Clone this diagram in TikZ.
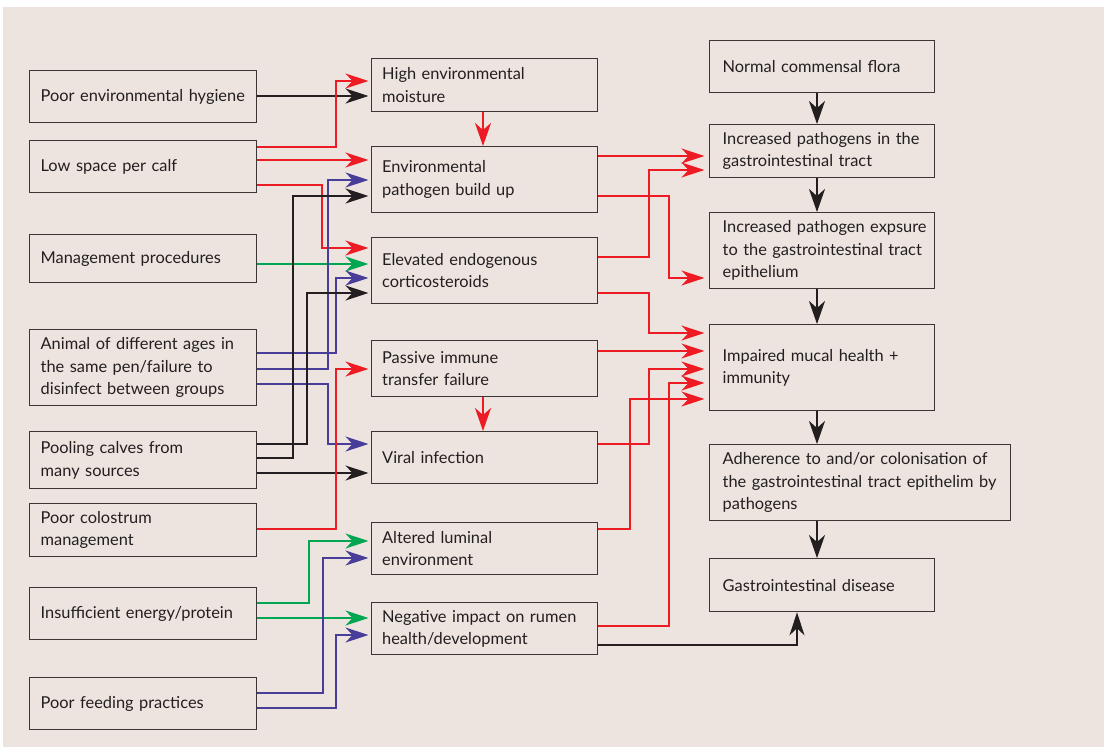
\documentclass[tikz,border=0pt]{standalone}
\usepackage{fontspec}
\setmainfont{Lato}
\usetikzlibrary{arrows.meta}
\definecolor{bg}{RGB}{237,228,223}
\definecolor{cred}{RGB}{237,28,36}
\definecolor{cblue}{RGB}{72,61,152}
\definecolor{cgreen}{RGB}{0,166,81}
\definecolor{cblack}{RGB}{35,31,32}
\definecolor{cbord}{RGB}{60,53,53}
\begin{document}
\begin{tikzpicture}[x=1pt,y=-1pt,
  box/.style={draw=cbord, line width=1.3pt, inner xsep=0pt, inner ysep=0pt, align=left,
    anchor=north west, text=cblack, font=\fontsize{16.4}{22.5}\selectfont},
  lbox/.style={box, text width=227pt, execute at begin node={\leftskip=11pt\hyphenpenalty=10000\exhyphenpenalty=10000}},
  mbox/.style={box, text width=226pt, execute at begin node={\leftskip=10.5pt\hyphenpenalty=10000\exhyphenpenalty=10000}},
  rbox/.style={box, text width=225pt, execute at begin node={\leftskip=13pt\hyphenpenalty=10000\exhyphenpenalty=10000}},
  tip/.style={-{Stealth[length=23pt,width=15pt,inset=7pt]}},
  con/.style={line width=1.4pt, tip, shorten >=2.5pt},
  conr/.style={line width=1.4pt, tip, shorten >=4.5pt},
  vert/.style={line width=2.2pt, -{Stealth[length=23pt,width=16pt,inset=7pt]}},
]
\useasboundingbox (0,0) rectangle (1104,747);
\fill[bg] (3,7) rectangle (1104,747);

% left column
\node[lbox, minimum height=52pt] (hyg) at (29,70) {Poor environmental hygiene};
\node[lbox, minimum height=52pt] (low) at (29,140) {Low space per calf};
\node[lbox, minimum height=48pt] (mgmt) at (29,234) {Management procedures};
\node[lbox, minimum height=76pt] (anim) at (29,329) {Animal of different ages in\\the same pen/failure to\\disinfect between groups};
\node[lbox, minimum height=57pt] (pool) at (29,431) {Pooling calves from\\many sources};
\node[lbox, minimum height=53pt] (colo) at (29,503) {Poor colostrum\\management};
\node[lbox, minimum height=52pt] (insuf) at (29,587) {Insufficient energy/protein};
\node[lbox, minimum height=52pt] (feed) at (29,677) {Poor feeding practices};

% middle column
\node[mbox, minimum height=53pt] (moist) at (371,58) {High environmental\\moisture};
\node[mbox, minimum height=66pt] (env) at (371,146) {Environmental\\pathogen build up};
\node[mbox, minimum height=66pt] (elev) at (371,237) {Elevated endogenous\\corticosteroids};
\node[mbox, minimum height=56pt] (pass) at (371,340) {Passive immune\\transfer failure};
\node[mbox, minimum height=52pt] (viral) at (371,431) {Viral infection};
\node[mbox, minimum height=52pt] (alt) at (371,522) {Altered luminal\\environment};
\node[mbox, minimum height=52pt] (neg) at (371,602) {Negative impact on rumen\\health/development};

% right column
\node[rbox, minimum height=52pt] (norm) at (709,40) {Normal commensal flora};
\node[rbox, minimum height=53pt] (incp) at (709,124) {Increased pathogens in the\\gastrointestinal tract};
\node[rbox, minimum height=76pt] (expo) at (709,212) {Increased pathogen expsure\\to the gastrointestinal tract\\epithelium};
\node[rbox, minimum height=86pt] (imp) at (709,324) {Impaired mucal health +\\immunity};
\node[rbox, text width=301pt, minimum height=76pt] (adh) at (709,444) {Adherence to and/or colonisation of\\the gastrointestinal tract epithelim by\\pathogens};
\node[rbox, minimum height=53pt] (gastro) at (709,558) {Gastrointestinal disease};

% left -> middle
\draw[con,cblack] (hyg.east |- 0,96) -- (moist.west |- 0,96);
\draw[con,cred] (low.east |- 0,147) -| (336,81) -- (moist.west |- 0,81);
\draw[con,cred] (low.east |- 0,160) -- (env.west |- 0,160);
\draw[con,cred] (low.east |- 0,185) -| (322,248) -- (elev.west |- 0,248);
\draw[con,cgreen] (mgmt.east |- 0,264) -- (elev.west |- 0,264);
\draw[con,cblue] (anim.east |- 0,353) -| (336,278) -- (elev.west |- 0,278);
\draw[con,cblue] (anim.east |- 0,369) -| (328,180) -- (env.west |- 0,180);
\draw[con,cblue] (anim.east |- 0,384) -| (328,444) -- (viral.west |- 0,444);
\draw[con,cblack] (pool.east |- 0,444) -| (307,293) -- (elev.west |- 0,293);
\draw[con,cblack] (pool.east |- 0,458) -| (293,196) -- (env.west |- 0,196);
\draw[con,cblack] (pool.east |- 0,473) -- (viral.west |- 0,473);
\draw[con,cred] (colo.east |- 0,529) -| (336,369) -- (pass.west |- 0,369);
\draw[con,cgreen] (insuf.east |- 0,603) -| (309,541) -- (alt.west |- 0,541);
\draw[con,cgreen] (insuf.east |- 0,618) -- (neg.west |- 0,618);
\draw[con,cblue] (feed.east |- 0,693) -| (323,558) -- (alt.west |- 0,558);
\draw[con,cblue] (feed.east |- 0,708) -| (336,635) -- (neg.west |- 0,635);

% middle verticals
\draw[vert,cred] (moist.south -| 483,0) -- (env.north -| 483,0);
\draw[vert,cred] (pass.south -| 483,0) -- (viral.north -| 483,0);

% middle -> right
\draw[conr,cred] (env.east |- 0,156) -- (incp.west |- 0,156);
\draw[conr,cred] (elev.east |- 0,257) -| (649,170) -- (incp.west |- 0,170);
\draw[conr,cred] (env.east |- 0,196) -| (669,278) -- (expo.west |- 0,278);
\draw[conr,cred] (elev.east |- 0,293) -| (649,333) -- (imp.west |- 0,333);
\draw[conr,cred] (pass.east |- 0,351) -- (imp.west |- 0,351);
\draw[conr,cred] (viral.east |- 0,444) -| (649,369) -- (imp.west |- 0,369);
\draw[conr,cred] (alt.east |- 0,529) -| (630,399) -- (imp.west |- 0,399);
\draw[conr,cred] (neg.east |- 0,626) -| (669,383) -- (imp.west |- 0,383);
\draw[line width=1.4pt, cblack, tip] (neg.east |- 0,645) -| (gastro.south -| 797,0);

% right verticals
\draw[vert,cblack] (norm.south -| 817,0) -- (incp.north -| 817,0);
\draw[vert,cblack] (incp.south -| 817,0) -- (expo.north -| 817,0);
\draw[vert,cblack] (expo.south -| 817,0) -- (imp.north -| 817,0);
\draw[vert,cblack] (imp.south -| 817,0) -- (adh.north -| 817,0);
\draw[vert,cblack] (adh.south -| 817,0) -- (gastro.north -| 817,0);
\end{tikzpicture}
\end{document}
